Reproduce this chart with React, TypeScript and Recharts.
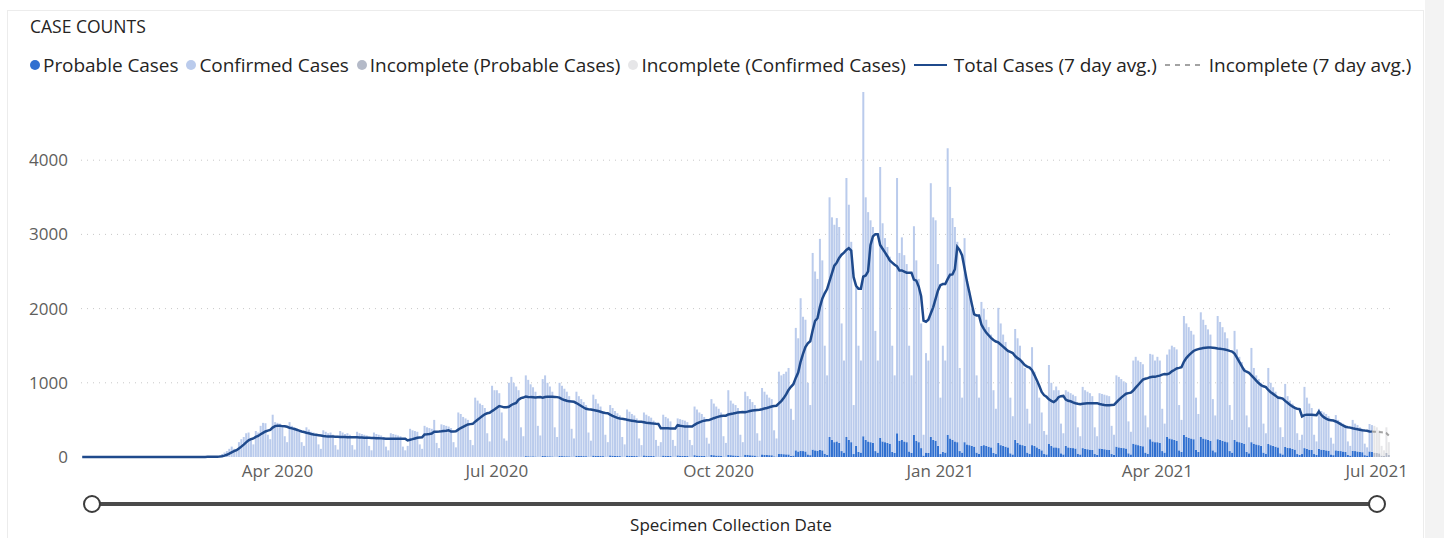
import React from "react";
import { ComposedChart, Bar, Line, XAxis, YAxis, CartesianGrid } from "recharts";

// first day on the axis, and first day whose counts are still incomplete
const FIRST_DAY = "2020-01-11";
const INCOMPLETE_FROM = "2021-06-30";

// daily confirmed cases by specimen collection date, one array per month
const confirmed2020Jan = [0, 0, 0, 0, 0, 0, 0, 0, 0, 1, 0, 0, 0, 0, 0, 0, 0, 0, 0, 0, 0]; // from Jan 11
const confirmed2020Feb = [0, 0, 0, 0, 0, 0, 0, 0, 0, 0, 0, 0, 0, 0, 0, 0, 0, 0, 0, 0, 0, 0, 0, 0, 1, 0, 0, 1, 2];
const confirmed2020Mar = [2, 3, 4, 5, 6, 9, 6, 8, 40, 60, 80, 110, 140, 110, 100, 200, 240, 270, 320, 330, 220, 170, 350, 330, 420, 460, 455, 300, 240, 570, 470];
const confirmed2020Apr = [460, 450, 420, 280, 200, 470, 420, 400, 380, 340, 200, 150, 400, 370, 340, 330, 300, 170, 110, 360, 340, 320, 330, 300, 160, 100, 350, 330, 310, 320];
const confirmed2020May = [300, 160, 100, 340, 320, 310, 300, 290, 150, 90, 330, 310, 300, 290, 270, 140, 90, 320, 310, 300, 290, 280, 140, 90, 150, 380, 360, 350, 340, 170, 110];
const confirmed2020Jun = [420, 400, 390, 380, 500, 190, 120, 440, 430, 420, 410, 390, 200, 130, 600, 580, 540, 520, 500, 230, 160, 800, 760, 720, 700, 660, 320, 210, 960, 900];
const confirmed2020Jul = [900, 860, 600, 250, 220, 1000, 1080, 1000, 950, 900, 400, 280, 1088, 1030, 972, 931, 873, 417, 288, 1036, 1088, 990, 941, 872, 397, 268, 985, 948, 909, 870, 811];
const confirmed2020Aug = [375, 247, 862, 805, 767, 728, 689, 325, 217, 820, 764, 706, 667, 608, 295, 197, 678, 642, 605, 576, 548, 265, 167, 620, 593, 565, 547, 508, 245, 157, 578];
const confirmed2020Sep = [552, 534, 515, 477, 225, 147, 194, 550, 523, 505, 467, 225, 147, 498, 492, 484, 475, 457, 225, 156, 655, 620, 582, 564, 526, 254, 176, 752, 696, 660];
const confirmed2020Oct = [630, 582, 274, 186, 870, 735, 698, 680, 642, 293, 195, 848, 793, 756, 718, 680, 312, 215, 895, 850, 813, 775, 756, 351, 244, 1105, 1060, 1082, 1114, 1165, 635];
const confirmed2020Nov = [480, 1650, 1525, 2055, 1810, 1775, 965, 675, 2650, 2410, 2315, 2845, 2560, 1455, 1070, 3230, 3000, 2930, 3010, 2910, 1720, 1240, 3490, 3170, 2700, 660, 2150, 1430, 1240, 4640];
const confirmed2020Dec = [3270, 3090, 2990, 2910, 1620, 1240, 3650, 2940, 2750, 2640, 2520, 1430, 1045, 3440, 2530, 2730, 2510, 2400, 1425, 1045, 2810, 2430, 2200, 1680, 280, 1340, 1245, 3420, 3000, 2970, 2450];
const confirmed2021Jan = [760, 1430, 1240, 3860, 3390, 2990, 2890, 2700, 1120, 740, 2750, 2230, 2040, 1850, 1760, 1040, 755, 1940, 1840, 1700, 1610, 1520, 845, 610, 1820, 1640, 1500, 1410, 1320, 750, 515];
const confirmed2021Feb = [1495, 1410, 1330, 1140, 1050, 590, 405, 1320, 1000, 870, 690, 510, 310, 265, 1065, 850, 770, 820, 780, 400, 285, 750, 750, 735, 720, 705, 355, 245];
const confirmed2021Mar = [825, 790, 775, 760, 725, 360, 250, 745, 740, 735, 730, 725, 380, 270, 960, 950, 925, 900, 885, 430, 305, 1120, 1180, 1140, 1130, 1105, 500, 355, 1150, 1170, 1100];
const confirmed2021Apr = [1150, 1110, 570, 390, 1110, 1200, 1260, 1250, 1230, 610, 430, 1600, 1530, 1490, 1450, 1410, 705, 510, 1680, 1600, 1540, 1490, 1430, 690, 495, 1660, 1590, 1530, 1470, 1400];
const confirmed2021May = [620, 440, 1470, 1240, 1150, 1090, 1020, 490, 350, 1270, 1020, 930, 890, 850, 390, 275, 1025, 840, 790, 740, 690, 350, 235, 850, 695, 640, 610, 580, 280, 200, 260];
const confirmed2021Jun = [825, 690, 620, 565, 260, 180, 540, 520, 505, 490, 465, 225, 155, 475, 415, 390, 375, 360, 180, 130, 415, 370, 355, 330, 315, 155, 110, 370, 360, 360];
const confirmed2021Jul = [345, 310, 130, 75, 345, 170];

// daily probable cases (none reported before July 2020)
const probable2020Jul = [0, 0, 0, 0, 0, 0, 0, 0, 0, 0, 0, 0, 12, 10, 8, 9, 7, 3, 2, 14, 12, 10, 9, 8, 3, 2, 15, 12, 11, 10, 9];
const probable2020Aug = [5, 3, 18, 15, 13, 12, 11, 5, 3, 20, 16, 14, 13, 12, 5, 3, 22, 18, 15, 14, 12, 5, 3, 20, 17, 15, 13, 12, 5, 3, 22];
const probable2020Sep = [18, 16, 15, 13, 5, 3, 6, 20, 17, 15, 13, 5, 3, 22, 18, 16, 15, 13, 5, 4, 25, 20, 18, 16, 14, 6, 4, 28, 24, 20];
const probable2020Oct = [20, 18, 6, 4, 30, 25, 22, 20, 18, 7, 5, 32, 27, 24, 22, 20, 8, 5, 35, 30, 27, 25, 24, 9, 6, 45, 40, 38, 36, 35, 15];
const probable2020Nov = [20, 90, 75, 85, 80, 75, 35, 25, 100, 90, 85, 95, 90, 45, 30, 270, 230, 200, 210, 190, 80, 60, 270, 230, 200, 40, 150, 70, 60, 280];
const probable2020Dec = [230, 210, 200, 190, 80, 60, 260, 210, 200, 190, 180, 70, 55, 320, 220, 230, 210, 200, 75, 55, 300, 220, 200, 120, 20, 60, 55, 270, 230, 220, 150];
const probable2021Jan = [40, 70, 60, 300, 250, 230, 210, 200, 80, 60, 200, 170, 160, 150, 140, 60, 45, 150, 160, 150, 140, 130, 55, 40, 190, 160, 150, 140, 130, 50, 35];
const probable2021Feb = [230, 190, 170, 160, 150, 60, 45, 160, 150, 130, 110, 90, 40, 35, 175, 150, 130, 130, 120, 50, 35, 150, 130, 125, 120, 115, 45, 35];
const probable2021Mar = [120, 110, 105, 100, 95, 40, 30, 115, 110, 105, 100, 95, 40, 30, 140, 130, 125, 120, 115, 50, 35, 180, 170, 160, 150, 145, 60, 45, 240, 210, 200];
const probable2021Apr = [200, 190, 80, 60, 270, 250, 240, 230, 220, 90, 70, 300, 270, 260, 250, 240, 95, 70, 270, 250, 240, 230, 220, 90, 65, 240, 230, 220, 210, 200];
const probable2021May = [80, 60, 230, 210, 200, 190, 180, 70, 50, 200, 180, 170, 160, 150, 60, 45, 175, 160, 150, 140, 130, 50, 35, 135, 125, 120, 110, 100, 40, 30, 40];
const probable2021Jun = [120, 110, 100, 95, 40, 30, 110, 100, 95, 90, 85, 35, 25, 90, 85, 80, 75, 70, 30, 20, 85, 80, 75, 70, 65, 25, 20, 75, 70, 60];
const probable2021Jul = [55, 50, 20, 15, 55, 30];

const months: [number[], number[]][] = [
  [confirmed2020Jan, []],
  [confirmed2020Feb, []],
  [confirmed2020Mar, []],
  [confirmed2020Apr, []],
  [confirmed2020May, []],
  [confirmed2020Jun, []],
  [confirmed2020Jul, probable2020Jul],
  [confirmed2020Aug, probable2020Aug],
  [confirmed2020Sep, probable2020Sep],
  [confirmed2020Oct, probable2020Oct],
  [confirmed2020Nov, probable2020Nov],
  [confirmed2020Dec, probable2020Dec],
  [confirmed2021Jan, probable2021Jan],
  [confirmed2021Feb, probable2021Feb],
  [confirmed2021Mar, probable2021Mar],
  [confirmed2021Apr, probable2021Apr],
  [confirmed2021May, probable2021May],
  [confirmed2021Jun, probable2021Jun],
  [confirmed2021Jul, probable2021Jul],
];

const xTickLabels: Record<string, string> = {
  "2020-04-01": "Apr 2020",
  "2020-07-01": "Jul 2020",
  "2020-10-01": "Oct 2020",
  "2021-01-01": "Jan 2021",
  "2021-04-01": "Apr 2021",
  "2021-07-01": "Jul 2021",
};
const yTicks = [0, 1000, 2000, 3000, 4000];

const PROBABLE = "#2f6fd0";
const CONFIRMED = "#bacbec";
const INC_PROBABLE = "#b4bac8";
const INC_CONFIRMED = "#e6e6e8";
const AVG = "#1f4a8c";
const AVG_INC = "#a3a3a3";
const FONT = "'Segoe UI', 'Open Sans', sans-serif";

type Row = {
  date: string;
  probable: number;
  confirmed: number;
  incProbable: number;
  incConfirmed: number;
  total: number;
  avg: number | null;
  avgInc: number | null;
};

const DAY = 86400000;
const start = Date.parse(FIRST_DAY + "T00:00:00Z");
const rows: Row[] = [];
months.forEach(([conf, prob]) => {
  conf.forEach((c, j) => {
    const date = new Date(start + rows.length * DAY).toISOString().slice(0, 10);
    const p = prob[j] ?? 0;
    const inc = date >= INCOMPLETE_FROM;
    rows.push({
      date,
      probable: inc ? 0 : p,
      confirmed: inc ? 0 : c,
      incProbable: inc ? p : 0,
      incConfirmed: inc ? c : 0,
      total: c + p,
      avg: null,
      avgInc: null,
    });
  });
});

// trailing 7 day average of total cases
rows.forEach((r, i) => {
  const win = rows.slice(Math.max(0, i - 6), i + 1);
  const a = Math.round(win.reduce((s, x) => s + x.total, 0) / 7);
  const inc = r.date >= INCOMPLETE_FROM;
  const next = rows[i + 1];
  if (!inc) r.avg = a;
  if (inc || (next && next.date >= INCOMPLETE_FROM)) r.avgInc = a;
});

function DateTick({ x, y, payload }: any) {
  const label = xTickLabels[payload.value];
  if (!label) return <g />;
  return (
    <text x={x} y={y} dy="0.71em" textAnchor="middle" fill="#605e5c" fontSize={17} fontFamily={FONT}>
      {label}
    </text>
  );
}

const legendItems = [
  { label: "Probable Cases", kind: "dot", color: PROBABLE },
  { label: "Confirmed Cases", kind: "dot", color: CONFIRMED },
  { label: "Incomplete (Probable Cases)", kind: "dot", color: INC_PROBABLE },
  { label: "Incomplete (Confirmed Cases)", kind: "dot", color: INC_CONFIRMED },
  { label: "Total Cases (7 day avg.)", kind: "line", color: AVG },
  { label: "Incomplete (7 day avg.)", kind: "dash", color: AVG_INC },
];

function Legend() {
  return (
    <div
      style={{
        position: "absolute",
        left: 30,
        top: 52,
        display: "flex",
        alignItems: "center",
        fontSize: 19,
        letterSpacing: -0.05,
        color: "#252423",
        whiteSpace: "nowrap",
      }}
    >
      {legendItems.map((it) => (
        <div key={it.label} style={{ display: "flex", alignItems: "center", marginRight: 8 }}>
          {it.kind === "dot" && (
            <span style={{ width: 10, height: 10, borderRadius: 5, background: it.color, marginRight: 3 }} />
          )}
          {it.kind === "line" && (
            <span style={{ width: 33, height: 2, background: it.color, marginRight: 7 }} />
          )}
          {it.kind === "dash" && (
            <svg width={37} height={4} style={{ marginRight: 7 }}>
              <line x1={0} y1={2} x2={37} y2={2} stroke={it.color} strokeWidth={2} strokeDasharray="5 5" />
            </svg>
          )}
          <span>{it.label}</span>
        </div>
      ))}
    </div>
  );
}

export default function App() {
  return (
    <div
      style={{
        position: "absolute",
        left: 0,
        top: 0,
        width: 1444,
        height: 538,
        background: "#fff",
        overflow: "hidden",
        fontFamily: FONT,
      }}
    >
      <div style={{ position: "absolute", left: 1425, top: 0, width: 19, height: 538, background: "#f3f3f3" }} />
      <div
        style={{
          position: "absolute",
          left: 7,
          top: 10,
          width: 1417,
          height: 540,
          border: "1px solid #ececec",
          boxSizing: "border-box",
        }}
      />
      <div style={{ position: "absolute", left: 30, top: 14, fontSize: 17.5, color: "#252423" }}>CASE COUNTS</div>
      <Legend />

      <div style={{ position: "absolute", left: 0, top: 0 }}>
        <ComposedChart
          width={1444}
          height={490}
          data={rows}
          margin={{ top: 86, right: 54, bottom: 3, left: 0 }}
          barCategoryGap="10%"
        >
          <CartesianGrid
            vertical={false}
            horizontalValues={[1000, 2000, 3000, 4000]}
            stroke="#c8c8c8"
            strokeDasharray="1 5"
          />
          <XAxis
            dataKey="date"
            interval={0}
            tick={<DateTick />}
            tickLine={false}
            axisLine={false}
            height={30}
          />
          <YAxis
            type="number"
            domain={[0, 5000]}
            ticks={yTicks}
            tickLine={false}
            axisLine={false}
            width={81}
            tickMargin={7}
            tick={{ fill: "#605e5c", fontSize: 17, fontFamily: FONT }}
          />
          <Bar dataKey="probable" stackId="cases" fill={PROBABLE} isAnimationActive={false} />
          <Bar dataKey="confirmed" stackId="cases" fill={CONFIRMED} isAnimationActive={false} />
          <Bar dataKey="incProbable" stackId="cases" fill={INC_PROBABLE} isAnimationActive={false} />
          <Bar dataKey="incConfirmed" stackId="cases" fill={INC_CONFIRMED} isAnimationActive={false} />
          <Line
            dataKey="avg"
            type="linear"
            stroke={AVG}
            strokeWidth={2.5}
            dot={false}
            activeDot={false}
            isAnimationActive={false}
          />
          <Line
            dataKey="avgInc"
            type="linear"
            stroke={AVG_INC}
            strokeWidth={2}
            strokeDasharray="4 3"
            dot={false}
            activeDot={false}
            isAnimationActive={false}
          />
        </ComposedChart>
      </div>

      <div style={{ position: "absolute", left: 92, top: 502, width: 1285, height: 4, background: "#4a4a4a" }} />
      {[92, 1377].map((cx) => (
        <div
          key={cx}
          style={{
            position: "absolute",
            left: cx - 9,
            top: 495,
            width: 18,
            height: 18,
            borderRadius: "50%",
            border: "2px solid #3c3c3c",
            background: "#fff",
            boxSizing: "border-box",
          }}
        />
      ))}
      <div
        style={{
          position: "absolute",
          left: 431,
          top: 516,
          width: 600,
          height: 18,
          lineHeight: "18px",
          textAlign: "center",
          fontSize: 17,
          color: "#252423",
        }}
      >
        Specimen Collection Date
      </div>
    </div>
  );
}
